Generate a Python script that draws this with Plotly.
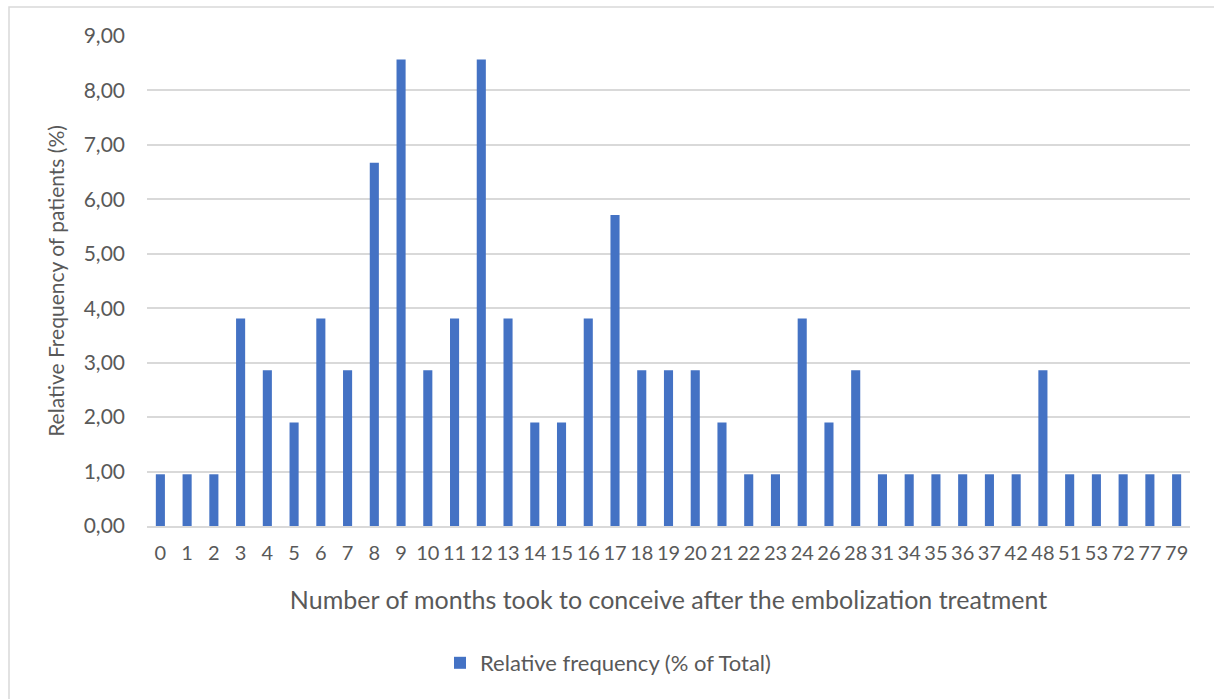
import plotly.graph_objects as go

months = ["0","1","2","3","4","5","6","7","8","9","10","11","12","13","14","15","16","17","18","19",
          "20","21","22","23","24","26","28","31","34","35","36","37","42","48","51","53","72","77","79"]
rel_freq = [0.95,0.95,0.95,3.81,2.86,1.90,3.81,2.86,6.67,8.57,2.86,3.81,8.57,3.81,1.90,1.90,3.81,5.71,2.86,2.86,
            2.86,1.90,0.95,0.95,3.81,1.90,2.86,0.95,0.95,0.95,0.95,0.95,0.95,2.86,0.95,0.95,0.95,0.95,0.95]
y_ticks = [0,1,2,3,4,5,6,7,8,9]

FONT = "Lato"
GREY = "#595959"

fig = go.Figure()
fig.add_trace(go.Bar(x=months, y=rel_freq, name="Relative frequency (% of Total)",
                     marker=dict(color="#4472C4", line=dict(width=0)), showlegend=True))

L, R, T, B = 147, 24, 36, 173
W, H = 1214, 699
pw, ph = W - L - R, H - T - B

fig.update_layout(
    width=W, height=H,
    margin=dict(l=L, r=R, t=T, b=B),
    paper_bgcolor="white", plot_bgcolor="white",
    separators=", ",
    bargap=0.66,
    font=dict(family=FONT, color=GREY, size=20),
    showlegend=True,
    legend=dict(orientation="h", x=(440-L)/pw, xanchor="left", y=(526-663)/ph, yanchor="middle",
                font=dict(size=22, color=GREY), itemwidth=30),
    xaxis=dict(type="category", showgrid=False, showline=True, linecolor="#D9D9D9", linewidth=2,
               ticks="", tickfont=dict(size=20, color=GREY), ticklabelstandoff=8,
               title=dict(text="Number of months took to conceive after the embolization treatment",
                          font=dict(size=25, color=GREY), standoff=28)),
    yaxis=dict(range=[0, 9], tickvals=y_ticks, tickformat=".2f", showgrid=True, gridcolor="#D9D9D9",
               gridwidth=1.5, zeroline=False, showline=False, ticks="", ticklabelstandoff=21,
               tickfont=dict(size=21, color=GREY),
               title=dict(text="Relative Frequency of patients (%)", font=dict(size=21, color=GREY), standoff=13)),
    shapes=[dict(type="rect", xref="paper", yref="paper",
                 x0=(9-L)/pw, x1=(1225-L)/pw, y0=(526-710)/ph, y1=(526-7)/ph,
                 line=dict(color="#D9D9D9", width=1.5), layer="below")],
)

fig.write_html("out.html")
